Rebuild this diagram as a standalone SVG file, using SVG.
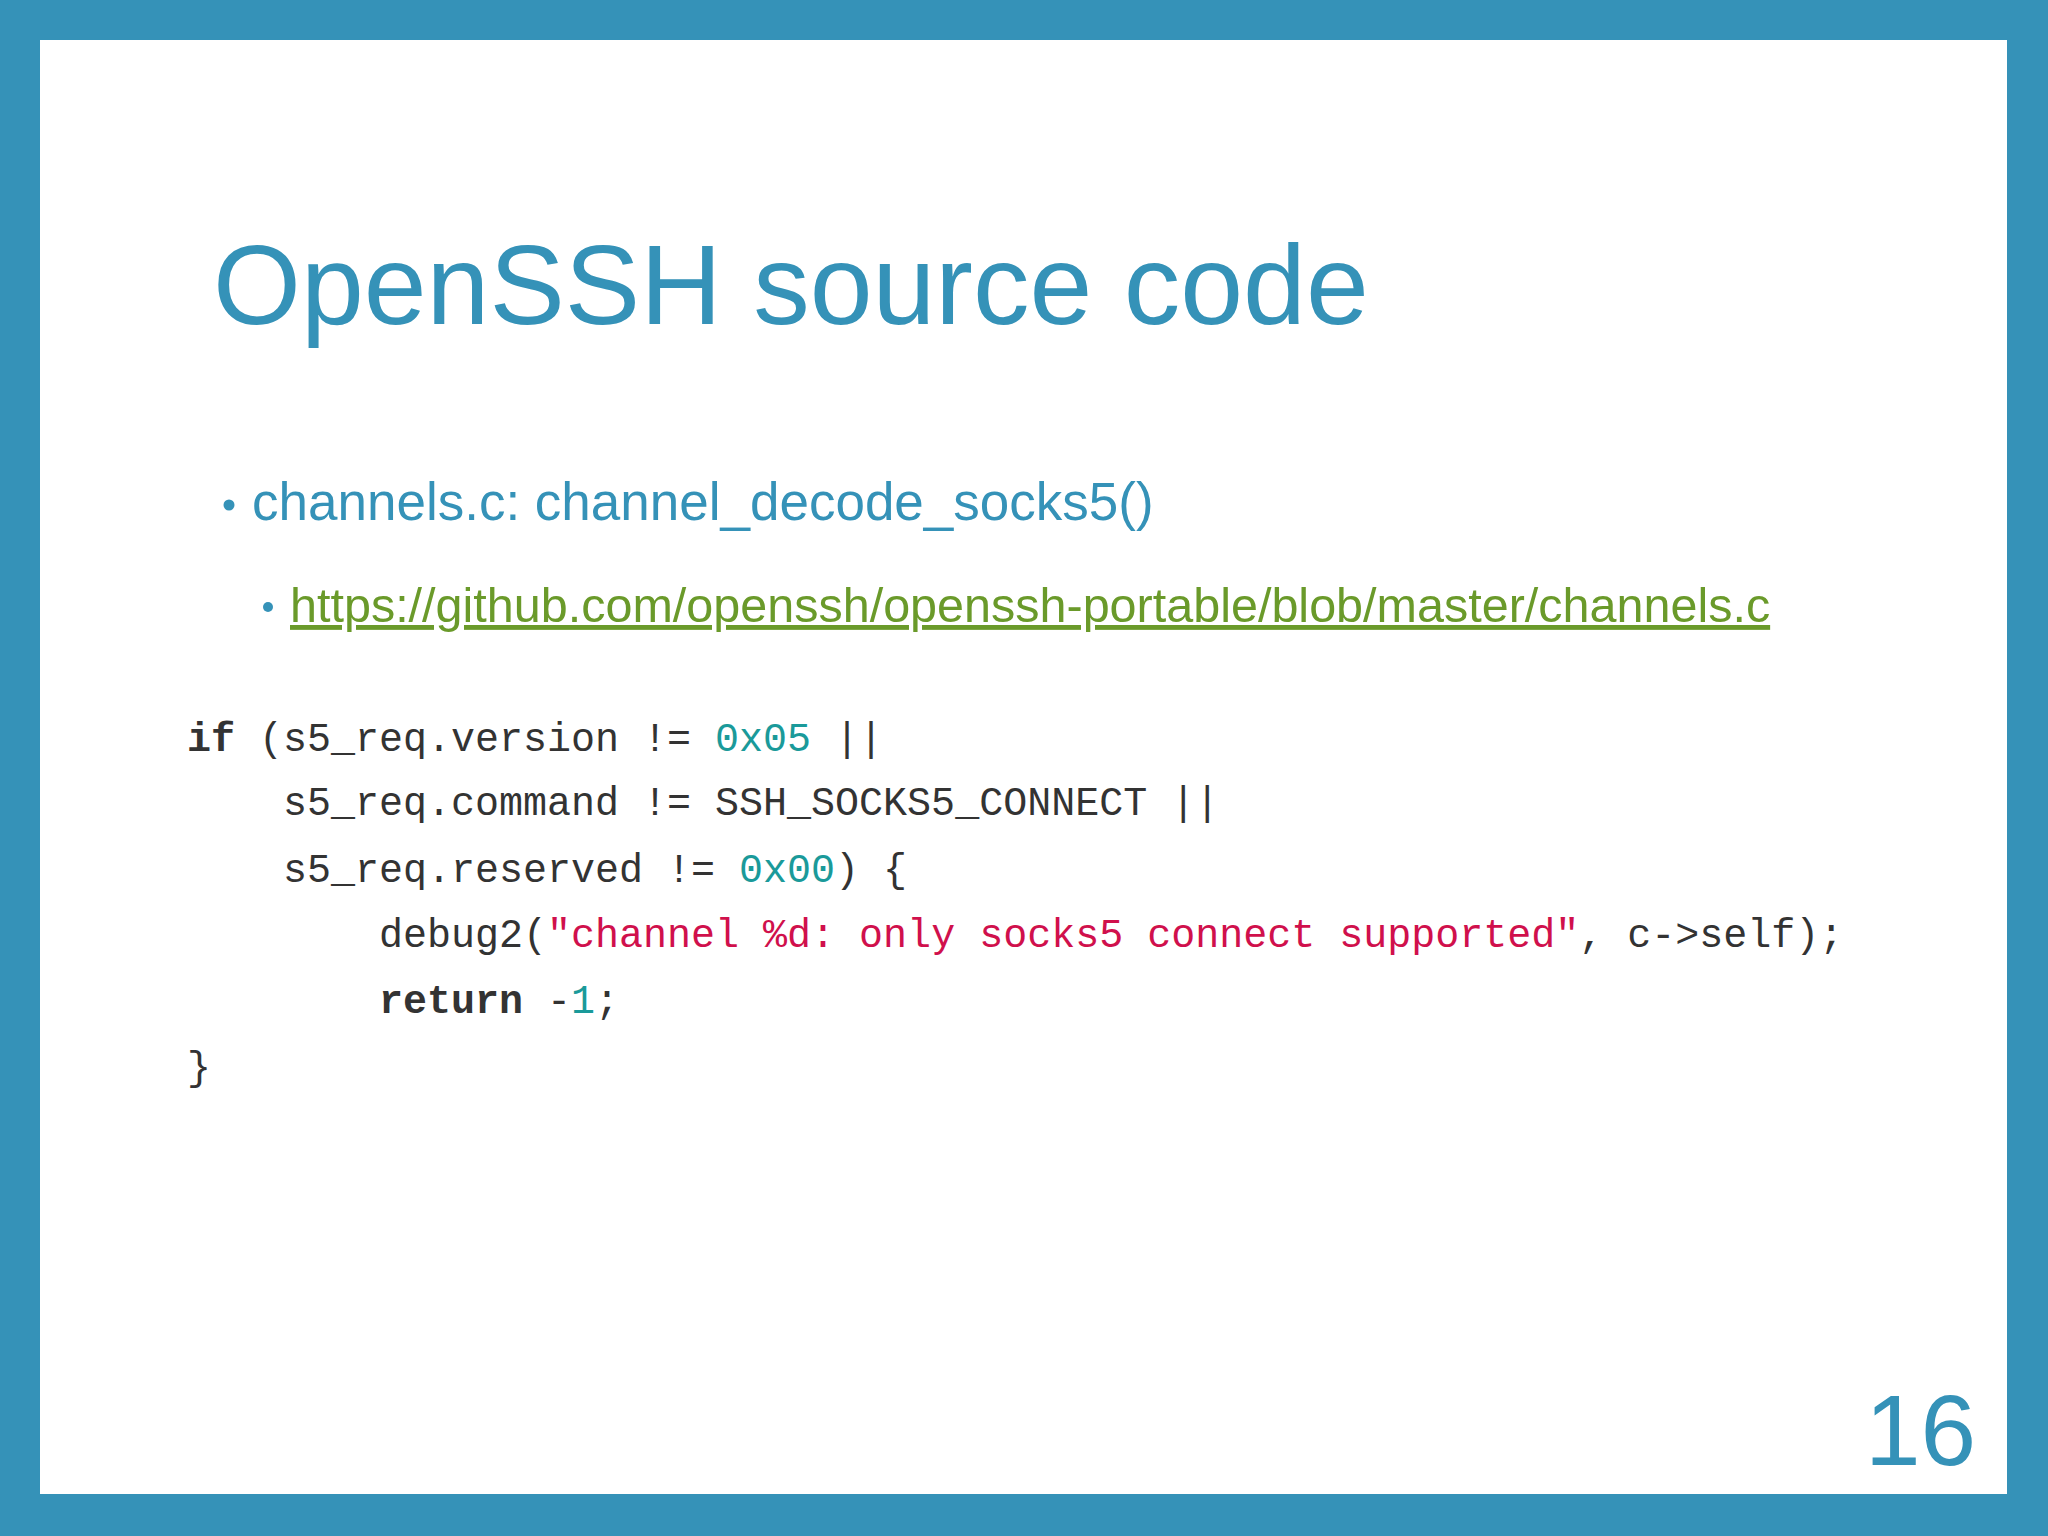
<svg xmlns="http://www.w3.org/2000/svg" width="2048" height="1536" viewBox="0 0 2048 1536">
<style>
.t{font-family:"Liberation Sans",Arial,sans-serif;fill:#3592b8}
.c{font-family:"Liberation Mono","DejaVu Sans Mono",monospace;font-size:40px;fill:#333;white-space:pre}
.n{fill:#1a9a9a}.s{fill:#d0104c}.k{font-weight:bold}
</style>
<rect width="2048" height="1536" fill="#3592b8"/>
<rect x="40" y="40" width="1967" height="1454" fill="#ffffff"/>
<text class="t" x="213" y="324" font-size="113">OpenSSH source code</text>
<g id="b1"><circle cx="229" cy="505" r="5.5" fill="#3592b8"/>
<text class="t" x="252" y="520" font-size="53">channels.c: channel_decode_socks5()</text></g>
<g id="b2"><circle cx="268" cy="607" r="5" fill="#3592b8"/>
<text x="290" y="622" font-size="48.5" font-family="Liberation Sans,Arial,sans-serif" fill="#6a9a2a" text-decoration="underline">https://github.com/openssh/openssh-portable/blob/master/channels.c</text></g>
<g id="code" xml:space="preserve">
<text class="c" x="187" y="751"><tspan class="k">if</tspan> (s5_req.version != <tspan class="n">0x05</tspan> ||</text>
<text class="c" x="187" y="815">    s5_req.command != SSH_SOCKS5_CONNECT ||</text>
<text class="c" x="187" y="882">    s5_req.reserved != <tspan class="n">0x00</tspan>) {</text>
<text class="c" x="187" y="947">        debug2(<tspan class="s">"channel %d: only socks5 connect supported"</tspan>, c-&gt;self);</text>
<text class="c" x="187" y="1013">        <tspan class="k">return</tspan> -<tspan class="n">1</tspan>;</text>
<text class="c" x="187" y="1080">}</text>
</g>
<text class="t" x="1865" y="1465" font-size="100">16</text>
</svg>
